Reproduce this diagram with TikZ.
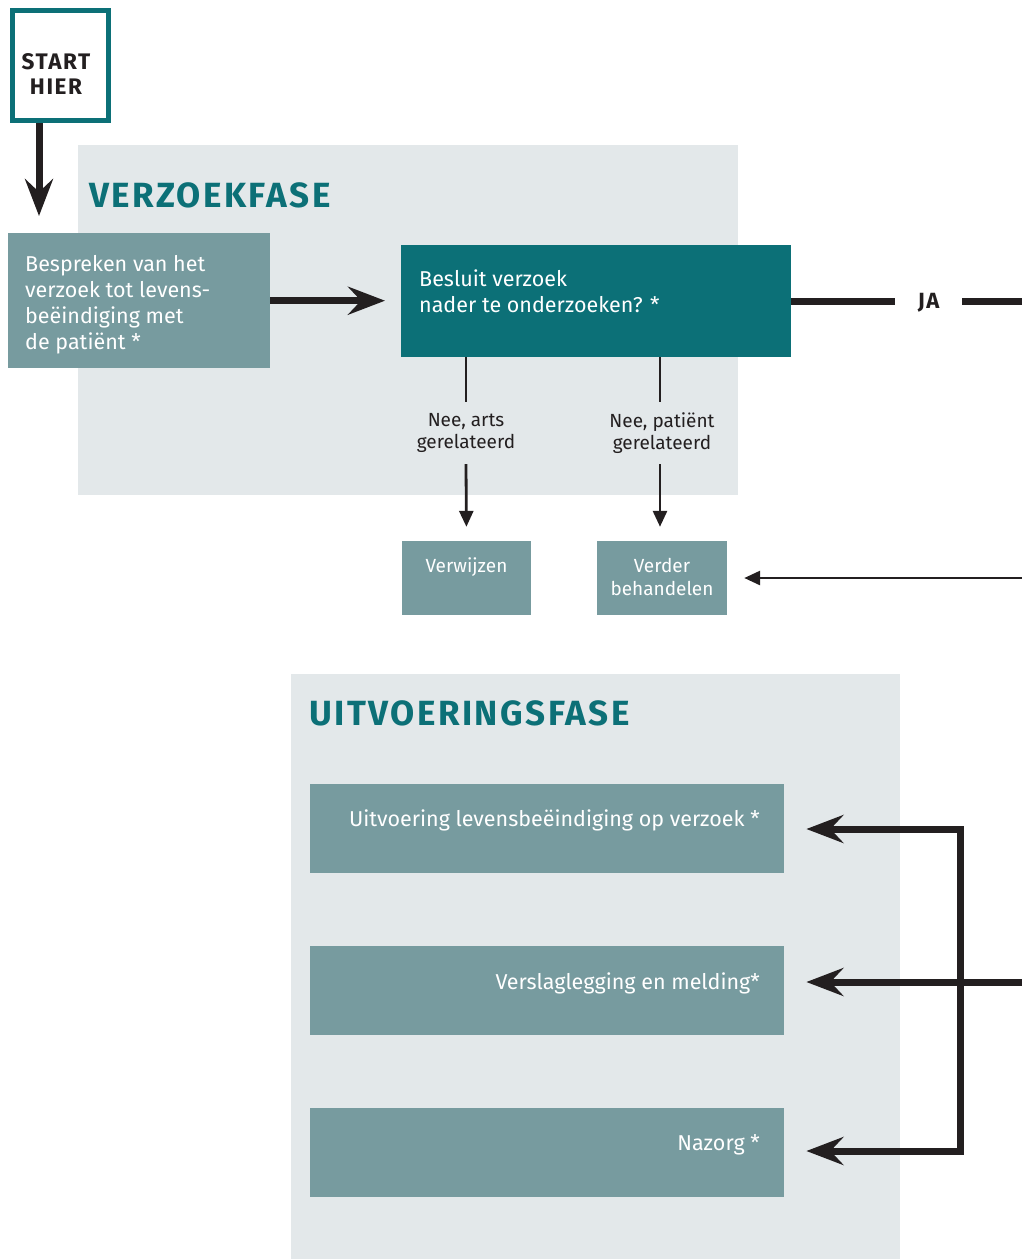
\documentclass[tikz,border=0pt]{standalone}
\usepackage{fontspec}
\setmainfont{Fira Sans}
\newfontfamily\widebold[LetterSpace=7]{Fira Sans}
\usetikzlibrary{arrows.meta}
\definecolor{darkteal}{HTML}{0C7077}
\definecolor{greyteal}{HTML}{779B9F}
\definecolor{bgpale}{HTML}{E3E8EA}
\definecolor{ink}{HTML}{231F20}
\tikzset{
  phasebg/.style={fill=bgpale},
  greybox/.style={fill=greyteal, inner sep=0pt},
  tealbox/.style={fill=darkteal, inner sep=0pt},
  wtext/.style={text=white, font=\fontsize{21.5}{26}\selectfont, inner sep=0pt},
  stext/.style={text=white, font=\fontsize{19}{23}\selectfont, inner sep=0pt, align=center},
  lbl/.style={text=ink, font=\fontsize{19}{22}\selectfont, inner sep=0pt, align=center},
  phasetitle/.style={text=darkteal, font=\widebold\bfseries\fontsize{35}{40}\selectfont, inner sep=0pt, anchor=west},
  thickline/.style={draw=ink, line width=7pt},
  bigarrow/.style={draw=ink, line width=7pt, -{Stealth[length=37pt, width=28pt, inset=13pt]}},
  thinline/.style={draw=ink, line width=2.8pt},
  thinarrow/.style={draw=ink, line width=2.8pt, -{Triangle[length=16pt, width=14pt]}},
}
\begin{document}
\begin{tikzpicture}[x=1pt,y=-1pt]
\useasboundingbox (0,0) rectangle (1022,1259);
% phase backgrounds
\fill[phasebg] (78,145) rectangle (738,495);
\fill[phasebg] (291,674) rectangle (900,1259);
\node[phasetitle] (t1) at (89,195) {VERZOEKFASE};
\node[phasetitle] (t2) at (309,713) {UITVOERINGSFASE};

% start box
\node[draw=darkteal, line width=5pt, fill=white, minimum width=96pt, minimum height=110pt, anchor=north west, inner sep=0pt] (start) at (10,8) {};
\node[text=ink, font=\widebold\bfseries\fontsize{22.5}{25}\selectfont, align=center, inner sep=0pt] (startt) at (56,74) {START\\HIER};

% request phase boxes
\node[greybox, minimum width=262pt, minimum height=135pt, anchor=north west] (b1) at (8,233) {};
\node[wtext, anchor=west, align=left] (b1t) at (25,305) {Bespreken van het\\verzoek tot levens-\\beëindiging met\\de patiënt *};
\node[tealbox, minimum width=390pt, minimum height=112pt, anchor=north west] (b2) at (401,245) {};
\node[wtext, anchor=west, align=left] (b2t) at (419,291.5) {Besluit verzoek\\nader te onderzoeken? *};

\node[greybox, minimum width=129pt, minimum height=74pt] (verw) at (466.5,578) {};
\node[stext] (verwt) at (466.5,567) {Verwijzen};
\node[greybox, minimum width=130pt, minimum height=74pt] (verder) at (662,578) {};
\node[stext] (verdert) at (662,576.5) {Verder\\behandelen};

\node[lbl, minimum height=62pt] (nee1) at (466,433) {Nee, arts\\gerelateerd};
\node[lbl, minimum height=62pt] (nee2) at (662,433) {Nee, patiënt\\gerelateerd};

% JA
\node[text=ink, font=\widebold\bfseries\fontsize{22}{24}\selectfont, inner xsep=0pt, inner ysep=0pt, minimum width=67pt] (ja) at (928.5,303) {JA};
\coordinate (jaend) at (1022,301);
\coordinate (backin) at (1022,578);

% execution phase boxes
\node[greybox, minimum width=474pt, minimum height=89pt, anchor=north west] (u1) at (310,784) {};
\node[wtext, anchor=east] (u1t) at (760,820) {Uitvoering levensbeëindiging op verzoek *};
\node[greybox, minimum width=474pt, minimum height=89pt, anchor=north west] (u2) at (310,946) {};
\node[wtext, anchor=east] (u2t) at (760,983) {Verslaglegging en melding*};
\node[greybox, minimum width=474pt, minimum height=89pt, anchor=north west] (u3) at (310,1108) {};
\node[wtext, anchor=east] (u3t) at (760,1145) {Nazorg *};

\coordinate (uin) at (1022,982);
\coordinate (brtop) at (960,829);
\coordinate (brbot) at (960,1151);

% connectors
\draw[bigarrow, shorten >=17pt] ([xshift=29pt]start.south west) -- ([xshift=29pt]start.south west |- b1.north);
\draw[bigarrow, shorten >=16pt] (b1.east) -- (b1.east -| b2.west);
\draw[thickline] (b2.east |- jaend) -- (ja.west |- jaend);
\draw[thickline] (ja.east |- jaend) -- (jaend);
\draw[thinline] (b2.south -| nee1) -- (nee1.north);
\draw[thinarrow, shorten >=14pt] (nee1.south) -- (verw.north);
\draw[thinline] (b2.south -| 660,0) -- (nee2.north -| 660,0);
\draw[thinarrow, shorten >=14pt] (nee2.south -| 660,0) -- (verw.north -| 660,0);
\draw[thinarrow, shorten >=17pt] (backin) -- (backin -| verder.east);

\draw[line width=7pt, draw=ink, line cap=rect] (brtop) -- (brbot);
\draw[bigarrow, shorten >=22pt] (uin) -- (uin -| u2.east);
\draw[bigarrow, shorten >=22pt] (brtop) -- (brtop -| u1.east);
\draw[bigarrow, shorten >=22pt] (brbot) -- (brbot -| u3.east);
\end{tikzpicture}
\end{document}
